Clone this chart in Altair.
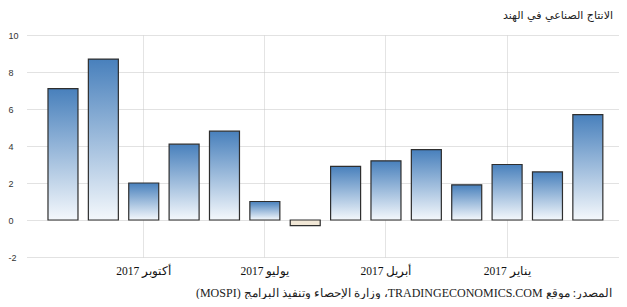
import altair as alt
import pandas as pd

# Data (bars ordered right-to-left in time, as in the reference)
months = ["ديسمبر 2017", "نوفمبر 2017", "أكتوبر 2017", "سبتمبر 2017", "أغسطس 2017",
          "يوليو 2017", "يونيو 2017", "مايو 2017", "أبريل 2017", "مارس 2017",
          "فبراير 2017", "يناير 2017", "ديسمبر 2016", "نوفمبر 2016"]
values = [7.1, 8.7, 2.0, 4.1, 4.8, 1.0, -0.3, 2.9, 3.2, 3.8, 1.9, 3.0, 2.6, 5.7]
axis_months = ["أكتوبر 2017", "يوليو 2017", "أبريل 2017", "يناير 2017"]
y_ticks = [-2, 0, 2, 4, 6, 8, 10]
title_text = "الانتاج الصناعي في الهند"
source_text = "\u202bالمصدر: موقع TRADINGECONOMICS.COM، وزارة الإحصاء وتنفيذ البرامج (MOSPI)\u202c"

df = pd.DataFrame({"month": months, "value": values})

gradient = alt.LinearGradient(
    gradient="linear",
    stops=[alt.GradientStop(color="#4880bc", offset=0),
           alt.GradientStop(color="#f4f8fc", offset=1)],
    x1=0, x2=0, y1=0, y2=1,
)

x = alt.X(
    "month:N",
    sort=months,
    scale=alt.Scale(domain=months, paddingInner=0.257, paddingOuter=0.46, align=0.565),
    axis=alt.Axis(values=axis_months, title=None, labelAngle=0, ticks=False,
                  domain=False, grid=True, gridColor="#e4e4e4",
                  labelFont="Liberation Serif", labelFontSize=11.5,
                  labelColor="#111111", labelPadding=8),
)
y = alt.Y(
    "value:Q",
    scale=alt.Scale(domain=[-2, 10], nice=False),
    axis=alt.Axis(values=y_ticks, title=None, ticks=False, domain=False,
                  grid=True, gridColor="#c4c4c4", gridDash=[1, 1],
                  labelExpr="'' + datum.value",
                  labelAlign="left", labelPadding=19, labelBaseline="middle",
                  labelFont="Liberation Sans", labelFontSize=9,
                  labelColor="#333333"),
)

pos = alt.Chart(df).transform_filter("datum.value >= 0").mark_bar(
    color=gradient, stroke="#2e2e2e", strokeWidth=1.2
).encode(x=x, y=y)

neg = alt.Chart(df).transform_filter("datum.value < 0").mark_bar(
    color="#f1e7d6", stroke="#2e2e2e", strokeWidth=1.2
).encode(x=x, y=y)

title = alt.Chart(alt.Data(values=[{}])).mark_text(
    text=title_text, align="right", baseline="middle",
    font="DejaVu Sans", fontSize=11, color="#222222"
).encode(x=alt.value(586), y=alt.value(-19))

source = alt.Chart(alt.Data(values=[{}])).mark_text(
    text=source_text, align="right", baseline="middle",
    font="Liberation Serif", fontSize=12, color="#222222"
).encode(x=alt.value(585), y=alt.value(258))

chart = alt.layer(pos, neg, title, source).properties(
    width=592,
    height=222,
    padding={"left": 19, "top": 27, "right": 0, "bottom": 42},
    autosize="none",
).configure_view(stroke=None)

chart.save("out.html", embed_options={"renderer": "svg", "actions": False})
